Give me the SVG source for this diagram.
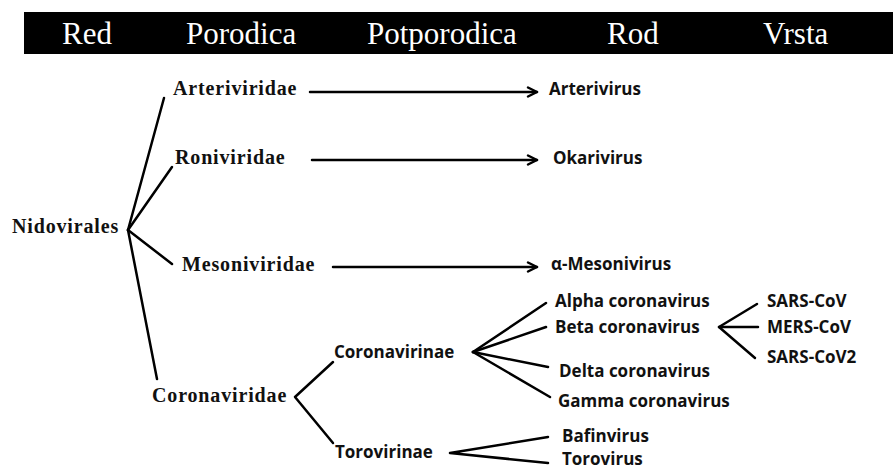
<svg xmlns="http://www.w3.org/2000/svg" width="893" height="470" viewBox="0 0 893 470">
<style>
.hdr{font-family:"Liberation Serif","Times New Roman",serif;font-size:31px;fill:#fff}
.ser{font-family:"Liberation Serif","Times New Roman",serif;font-size:20px;font-weight:bold;letter-spacing:0.85px;fill:#111}
.san{font-family:"Open Sans","Liberation Sans",Arial,sans-serif;font-size:17px;font-weight:bold;fill:#111}
.ln{stroke:#000;stroke-width:2.5;fill:none;stroke-linecap:round;stroke-linejoin:round}
</style>
<defs>
<marker id="arr" markerUnits="userSpaceOnUse" markerWidth="14" markerHeight="14" refX="11" refY="7" orient="auto">
<path d="M2,2.5 L11,7 L2,11.5" fill="none" stroke="#000" stroke-width="2.5" stroke-linecap="round" stroke-linejoin="round"/>
</marker>
</defs>
<rect width="893" height="470" fill="#fff"/>
<g id="header">
<rect x="24" y="12" width="869" height="42" fill="#000"/>
<text class="hdr" x="62" y="44">Red</text>
<text class="hdr" x="186" y="44">Porodica</text>
<text class="hdr" x="367" y="44">Potporodica</text>
<text class="hdr" x="607" y="44">Rod</text>
<text class="hdr" x="763" y="44">Vrsta</text>
</g>
<g id="connectors" class="ln">
<line x1="128" y1="230" x2="164" y2="98"/>
<line x1="128" y1="230" x2="172" y2="167"/>
<line x1="128" y1="230" x2="172" y2="264"/>
<line x1="128" y1="230" x2="157" y2="379"/>
<line x1="310" y1="92" x2="537" y2="92" marker-end="url(#arr)"/>
<line x1="312" y1="160" x2="537" y2="160" marker-end="url(#arr)"/>
<line x1="333" y1="267" x2="537" y2="267" marker-end="url(#arr)"/>
<polyline points="333,362 295,397 333,443"/>
<line x1="473" y1="352" x2="546" y2="303"/>
<line x1="473" y1="352" x2="546" y2="327"/>
<line x1="473" y1="352" x2="548" y2="367"/>
<line x1="473" y1="352" x2="550" y2="397"/>
<polyline points="548,437 450,453 548,463"/>
<polyline points="757,304 719,327 755,358"/>
<line x1="719" y1="327" x2="758" y2="327"/>
</g>
<g id="nidovirales"><text class="ser" x="12" y="233">Nidovirales</text></g>
<g id="arteriviridae"><text class="ser" x="173" y="95">Arteriviridae</text></g>
<g id="roniviridae"><text class="ser" x="175" y="164">Roniviridae</text></g>
<g id="mesoniviridae"><text class="ser" x="182" y="271">Mesoniviridae</text></g>
<g id="coronaviridae"><text class="ser" x="152" y="402">Coronaviridae</text></g>
<g id="arterivirus"><text class="san" x="549" y="95">Arterivirus</text></g>
<g id="okarivirus"><text class="san" x="553" y="164">Okarivirus</text></g>
<g id="mesonivirus"><text class="san" x="551" y="270">α-Mesonivirus</text></g>
<g id="coronavirinae"><text class="san" x="334" y="358">Coronavirinae</text></g>
<g id="torovirinae"><text class="san" x="335" y="458">Torovirinae</text></g>
<g id="alpha"><text class="san" x="555" y="307">Alpha coronavirus</text></g>
<g id="beta"><text class="san" x="555" y="333">Beta coronavirus</text></g>
<g id="delta"><text class="san" x="559" y="377">Delta coronavirus</text></g>
<g id="gamma"><text class="san" x="558" y="407">Gamma coronavirus</text></g>
<g id="bafinvirus"><text class="san" x="562" y="442">Bafinvirus</text></g>
<g id="torovirus"><text class="san" x="562" y="465">Torovirus</text></g>
<g id="sarscov"><text class="san" x="767" y="307">SARS-CoV</text></g>
<g id="merscov"><text class="san" x="767" y="333">MERS-CoV</text></g>
<g id="sarscov2"><text class="san" x="767" y="363">SARS-CoV2</text></g>
</svg>
